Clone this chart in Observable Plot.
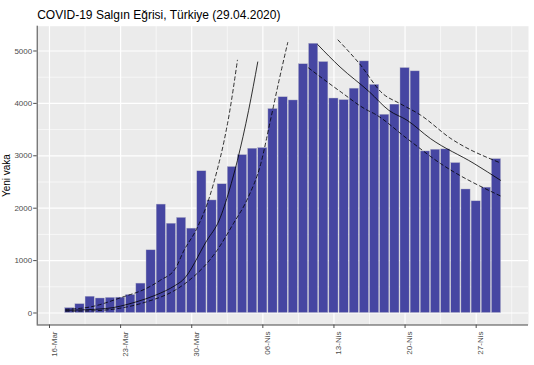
<!DOCTYPE html>
<html><head><meta charset="utf-8">
<script src="https://cdn.jsdelivr.net/npm/d3@7"></script>
<script src="https://cdn.jsdelivr.net/npm/@observablehq/plot@0.6"></script>
<style>
html,body{margin:0;padding:0;background:#fff;}
#chart svg{display:block;}
</style></head><body><div id="chart"></div>
<script>
// ---- text ----
const titleText = "COVID-19 Salgın Eğrisi, Türkiye (29.04.2020)";
const yLabel = "Yeni vaka";

// ---- daily new cases ----
const barDates = [
  "2020-03-18","2020-03-19","2020-03-20","2020-03-21","2020-03-22","2020-03-23","2020-03-24",
  "2020-03-25","2020-03-26","2020-03-27","2020-03-28","2020-03-29","2020-03-30","2020-03-31",
  "2020-04-01","2020-04-02","2020-04-03","2020-04-04","2020-04-05","2020-04-06","2020-04-07",
  "2020-04-08","2020-04-09","2020-04-10","2020-04-11","2020-04-12","2020-04-13","2020-04-14",
  "2020-04-15","2020-04-16","2020-04-17","2020-04-18","2020-04-19","2020-04-20","2020-04-21",
  "2020-04-22","2020-04-23","2020-04-24","2020-04-25","2020-04-26","2020-04-27","2020-04-28",
  "2020-04-29"
];
const newCases = [
  93,168,311,277,289,293,343,
  561,1196,2069,1704,1815,1610,2704,
  2148,2456,2786,3013,3135,3148,3892,
  4117,4056,4747,5138,4789,4093,4062,
  4281,4801,4353,3783,3977,4674,4611,
  3083,3116,3122,2861,2357,2131,2392,
  2936
];

// ---- fitted curves (days after 16 Mar) ----
const growthDay   = [1.6, 5.5, 8.5, 10.4, 12.4, 13.1, 15.5, 16.7, 17.7, 18.5, 19.6, 20.5];
const growthFit   = [52, 84, 210, 337, 529, 624, 1387, 1769, 2342, 2914, 3868, 4790];
const growthUpDay = [1.6, 4.0, 7.2, 9.5, 10.9, 12.4, 13.2, 14.5, 15.7, 16.5, 17.2, 17.7, 18.5];
const growthUp    = [70, 115, 305, 466, 624, 850, 1180, 1611, 2183, 2723, 3296, 3805, 4823];
const growthLoDay = [1.6, 4.0, 9.5, 12.4, 13.6, 16.5, 18.1, 19.5, 20.8, 21.75, 22.6, 23.45];
const growthLo    = [35, 40, 210, 440, 600, 1197, 1706, 2183, 2851, 3678, 4441, 5160];

const decayDay    = [26.4, 28.6, 31.5, 33.4, 35.2, 37.5, 41.8, 44.4];
const decayFit    = [5122, 4695, 4218, 3868, 3678, 3328, 2851, 2532];
const decayUpDay  = [28.4, 30.5, 32.8, 34.5, 36.5, 39.5, 44.4];
const decayUp     = [5210, 4760, 4187, 3996, 3780, 3330, 2863];
const decayLoDay  = [25.5, 28.6, 31.3, 31.9, 35.2, 38.5, 44.4];
const decayLo     = [4676, 4230, 3868, 3811, 3328, 2851, 2233];

// ---- ticks ----
const tickDates  = ["2020-03-16","2020-03-23","2020-03-30","2020-04-06","2020-04-13","2020-04-20","2020-04-27"];
const tickLabels = ["16-Mar","23-Mar","30-Mar","06-Nis","13-Nis","20-Nis","27-Nis"];
const minorDates = ["2020-03-19T12:00Z","2020-03-26T12:00Z","2020-04-02T12:00Z","2020-04-09T12:00Z","2020-04-16T12:00Z","2020-04-23T12:00Z","2020-04-30T12:00Z"];
const yTicks = [0,1000,2000,3000,4000,5000];
const yMinor = [500,1500,2500,3500,4500];

// ---- build ----
const DAY = 864e5;
const origin = Date.UTC(2020,2,16);
const toDate = t => new Date(origin + t*DAY);
const bars = barDates.map((d,i) => ({date: new Date(d+"T00:00Z"), value: newCases[i]}));
const pts = (days, vals) => days.map((t,i) => ({date: toDate(t), value: vals[i]}));
const ticks = tickDates.map(d => new Date(d+"T00:00Z"));
const labelMap = new Map(ticks.map((d,i) => [+d, tickLabels[i]]));
const minors = minorDates.map(d => new Date(d));

const xDomain = [toDate(-1.21), toDate(47.15)];
const yDomain = [-229, 5473];

const solid = {stroke: "black", strokeWidth: 0.8, curve: "monotone-x", x: "date", y: "value"};
const dashed = {...solid, strokeDasharray: "3.5,3"};

const chart = Plot.plot({
  width: 534, height: 365,
  marginLeft: 36.7, marginRight: 6, marginTop: 25.7, marginBottom: 40.5,
  style: {fontFamily: "'Liberation Sans', Arial, sans-serif", background: "white"},
  x: {type: "utc", domain: xDomain},
  y: {domain: yDomain},
  marks: [
    Plot.frame({fill: "#EBEBEB", stroke: null}),
    Plot.ruleY(yMinor, {stroke: "white", strokeWidth: 0.6}),
    Plot.ruleX(minors, {stroke: "white", strokeWidth: 0.6}),
    Plot.ruleY(yTicks, {stroke: "white", strokeWidth: 1.2}),
    Plot.ruleX(ticks, {stroke: "white", strokeWidth: 1.2}),
    Plot.rectY(bars, {
      x1: d => new Date(+d.date - 0.45*DAY),
      x2: d => new Date(+d.date + 0.45*DAY),
      y: "value", fill: "#4646A2", stroke: "#b8b8c8", strokeWidth: 0.4
    }),
    Plot.line(pts(growthDay, growthFit), solid),
    Plot.line(pts(growthUpDay, growthUp), dashed),
    Plot.line(pts(growthLoDay, growthLo), dashed),
    Plot.line(pts(decayDay, decayFit), solid),
    Plot.line(pts(decayUpDay, decayUp), dashed),
    Plot.line(pts(decayLoDay, decayLo), dashed),
    Plot.ruleX([xDomain[0]], {stroke: "#333", strokeWidth: 0.9}),
    Plot.ruleY([yDomain[0]], {stroke: "#333", strokeWidth: 0.9}),
    Plot.axisY(yTicks, {tickSize: 3.5, tickPadding: 1.5, fontSize: 8, color: "#4D4D4D", label: null,
      tickFormat: d => String(d)}),
    // tick marks only
    Plot.axisX(ticks, {tickSize: 3.5, tickFormat: () => "", color: "#4D4D4D", label: null}),
    // labels only, nudged right like the reference
    Plot.axisX(ticks, {tickSize: 0, tickPadding: 6.5, tickRotate: -90, fontSize: 8, color: "#4D4D4D",
      tickFormat: d => labelMap.get(+d), label: null, dx: 4.5}),
    Plot.text([titleText], {text: d => d, frameAnchor: "top-left", textAnchor: "start", lineAnchor: "bottom",
      dy: -7.4, fontSize: 12, fill: "black"}),
    Plot.text([yLabel], {text: d => d, frameAnchor: "left", rotate: -90, textAnchor: "middle",
      dx: -30, fontSize: 10, fill: "black"})
  ]
});
document.getElementById("chart").appendChild(chart);
</script>
</body></html>
